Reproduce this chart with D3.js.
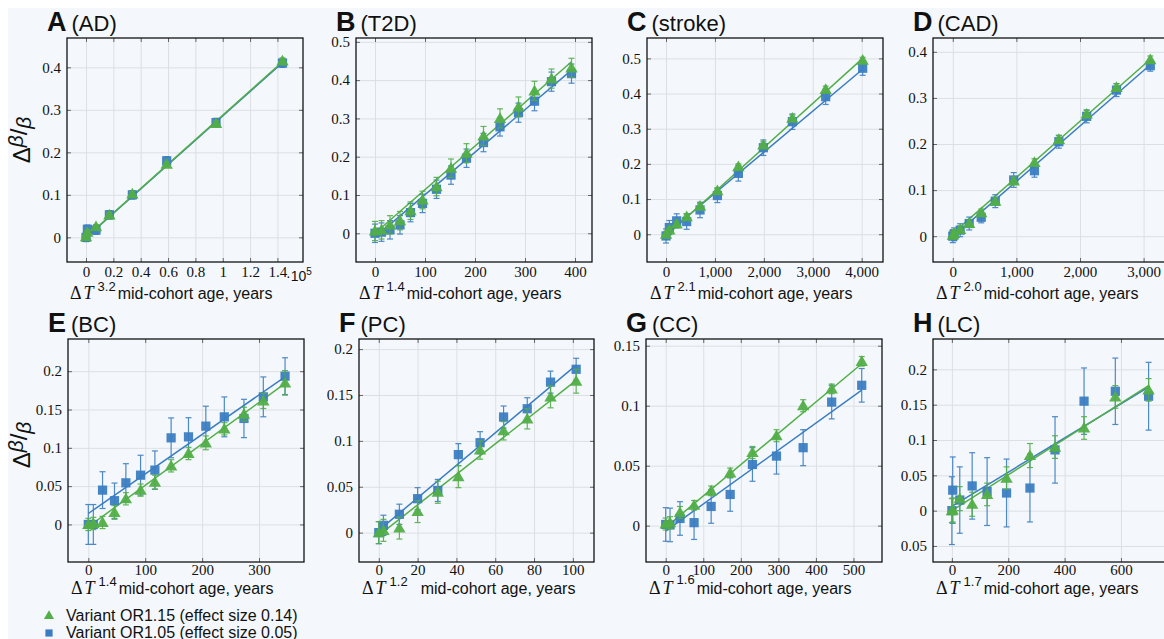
<!DOCTYPE html>
<html>
<head>
<meta charset="utf-8">
<script src="https://cdn.jsdelivr.net/npm/d3@7"></script>
<style>
  body { margin: 0; background: #fff; }
  text { font-family: "Liberation Sans", Arial, sans-serif; }
  .tick text { font-family: "Liberation Serif", "Times New Roman", serif; font-size: 15px; fill: #111; }
</style>
</head>
<body>
<svg id="chart" width="1164" height="639"></svg>
<script>
// ---- data (green = OR1.15 triangles, blue = OR1.05 squares) ----
// A (AD), x in units of 1e5
const xA  = [0, 0.01, 0.073, 0.171, 0.339, 0.59, 0.951, 1.437];
const gA  = [0.0015, 0.012, 0.025, 0.053, 0.102, 0.172, 0.268, 0.415];
const bA  = [0, 0.019, 0.017, 0.053, 0.1, 0.18, 0.27, 0.41];
const egA = [0.005, 0.005, 0.005, 0.005, 0.006, 0.006, 0.007, 0.007];
const ebA = [0.01, 0.01, 0.01, 0.01, 0.01, 0.01, 0.01, 0.01];
const fitGA = [[0, 0.0], [1.437, 0.413]];
const fitBA = [[0, -0.001], [1.437, 0.411]];

// B (T2D)
const xB  = [0, 13, 30, 50, 71, 95, 123, 152, 183, 217, 250, 287, 319, 353, 393];
const gB  = [0.006, 0.009, 0.022, 0.033, 0.059, 0.087, 0.122, 0.17, 0.209, 0.254, 0.3, 0.33, 0.372, 0.404, 0.432];
const bB  = [0, 0.003, 0.009, 0.022, 0.054, 0.078, 0.115, 0.152, 0.196, 0.237, 0.278, 0.315, 0.345, 0.396, 0.417];
const egB = [0.025, 0.024, 0.024, 0.024, 0.023, 0.023, 0.024, 0.024, 0.025, 0.025, 0.025, 0.026, 0.025, 0.025, 0.025];
const ebB = [0.024, 0.024, 0.024, 0.024, 0.024, 0.024, 0.024, 0.024, 0.024, 0.024, 0.024, 0.025, 0.025, 0.025, 0.025];
const fitGB = [[0, 0.0], [393, 0.448]];
const fitBB = [[0, -0.01], [393, 0.426]];

// C (stroke)
const xC  = [0, 68, 218, 422, 695, 1050, 1479, 1990, 2583, 3264, 4020];
const gC  = [0, 0.012, 0.029, 0.05, 0.08, 0.124, 0.192, 0.254, 0.33, 0.412, 0.495];
const bC  = [-0.005, 0.019, 0.038, 0.036, 0.069, 0.11, 0.173, 0.246, 0.32, 0.391, 0.472];
const egC = [0.008, 0.008, 0.008, 0.008, 0.008, 0.008, 0.008, 0.009, 0.009, 0.009, 0.008];
const ebC = [0.02, 0.02, 0.02, 0.022, 0.022, 0.02, 0.022, 0.022, 0.022, 0.022, 0.02];
const fitGC = [[0, -0.005], [4020, 0.5]];
const fitBC = [[0, 0.0], [4020, 0.469]];

// D (CAD)
const xD  = [0, 20, 116, 258, 447, 668, 958, 1284, 1668, 2105, 2574, 3105];
const gD  = [0.002, 0.006, 0.0145, 0.0275, 0.051, 0.076, 0.12, 0.16, 0.21, 0.265, 0.323, 0.383];
const bD  = [0, 0.004, 0.013, 0.0275, 0.041, 0.076, 0.122, 0.142, 0.205, 0.26, 0.317, 0.37];
const egD = [0.008, 0.008, 0.008, 0.008, 0.008, 0.008, 0.008, 0.008, 0.008, 0.008, 0.008, 0.008];
const ebD = [0.014, 0.014, 0.014, 0.014, 0.012, 0.014, 0.016, 0.014, 0.014, 0.014, 0.014, 0.012];
const fitGD = [[0, 0.006], [3105, 0.384]];
const fitBD = [[0, -0.0015], [3105, 0.372]];

// E (BC)
const xE  = [0, 8.8, 25, 46, 66, 91.8, 117, 145.5, 176, 206.5, 239, 273.5, 307.5, 345.7];
const gE  = [0, 0.0013, 0.0026, 0.0157, 0.0335, 0.0448, 0.0552, 0.0765, 0.0926, 0.1065, 0.1248, 0.1439, 0.1613, 0.1848];
const bE  = [0, 0, 0.0448, 0.031, 0.0543, 0.0643, 0.0709, 0.113, 0.1143, 0.1283, 0.1404, 0.1383, 0.1665, 0.1935];
const egE = [0.008, 0.008, 0.008, 0.009, 0.008, 0.008, 0.009, 0.008, 0.008, 0.009, 0.008, 0.009, 0.01, 0.016];
const ebE = [0.026, 0.026, 0.024, 0.023, 0.025, 0.026, 0.025, 0.026, 0.025, 0.026, 0.026, 0.025, 0.026, 0.024];
const fitGE = [[0, -0.003], [345.7, 0.184]];
const fitBE = [[0, 0.0143], [345.7, 0.1926]];

// F (PC)
const xF  = [0, 2.4, 10.6, 20, 30.4, 41, 52.2, 64.3, 76.5, 88.5, 101.7];
const gF  = [0, 0.0025, 0.005, 0.023, 0.044, 0.061, 0.09, 0.111, 0.124, 0.148, 0.165];
const bF  = [0, 0.008, 0.02, 0.037, 0.046, 0.085, 0.098, 0.126, 0.135, 0.164, 0.178];
const egF = [0.012, 0.012, 0.012, 0.012, 0.012, 0.012, 0.01, 0.01, 0.011, 0.012, 0.013];
const ebF = [0.012, 0.011, 0.011, 0.012, 0.012, 0.012, 0.012, 0.012, 0.012, 0.012, 0.012];
const fitGF = [[0, -0.003], [101.7, 0.166]];
const fitBF = [[0, 0.0025], [101.7, 0.1825]];

// G (CC)
const xG  = [0, 11.5, 38, 75.5, 121, 171.7, 231, 295, 366, 442, 522];
const gG  = [0.0014, 0.0025, 0.011, 0.017, 0.029, 0.044, 0.061, 0.075, 0.1, 0.114, 0.137];
const bG  = [0.001, 0.0006, 0.006, 0.0025, 0.016, 0.026, 0.051, 0.058, 0.065, 0.103, 0.117];
const egG = [0.005, 0.005, 0.005, 0.004, 0.004, 0.004, 0.005, 0.005, 0.005, 0.004, 0.004];
const ebG = [0.014, 0.014, 0.014, 0.014, 0.014, 0.014, 0.014, 0.015, 0.015, 0.014, 0.014];
const fitGG = [[0, -0.0014], [522, 0.135]];
const fitBG = [[0, -0.0045], [522, 0.113]];

// H (LC)
const xH  = [0, 3, 28, 72, 125, 194, 277, 366, 469, 580, 698];
const gH  = [0, 0.001, 0.017, 0.009, 0.023, 0.046, 0.078, 0.09, 0.117, 0.161, 0.171];
const bH  = [0, 0.029, 0.015, 0.035, 0.027, 0.025, 0.032, 0.086, 0.155, 0.169, 0.162];
const egH = [0.017, 0.017, 0.017, 0.017, 0.016, 0.016, 0.017, 0.016, 0.016, 0.016, 0.016];
const ebH = [0.048, 0.047, 0.047, 0.047, 0.048, 0.048, 0.048, 0.047, 0.047, 0.047, 0.048];
const fitGH = [[0, 0.0], [698, 0.177]];
const fitBH = [[0, 0.006], [698, 0.175]];

const legendLabels = ["Variant OR1.15 (effect size 0.14)", "Variant OR1.05 (effect size 0.05)"];

const panels = [
  { letter: "A", name: "(AD)",     exp: "3.2", x: xA, g: gA, b: bA, eg: egA, eb: ebA, fg: fitGA, fb: fitBA,
    xDom: [-0.139, 1.587], yDom: [-0.058, 0.469], xt: [0, 0.2, 0.4, 0.6, 0.8, 1, 1.2, 1.4], yt: [0, 0.1, 0.2, 0.3, 0.4], fmt: "~g" },
  { letter: "B", name: "(T2D)",    exp: "1.4", x: xB, g: gB, b: bB, eg: egB, eb: ebB, fg: fitGB, fb: fitBB,
    xDom: [-38, 434], yDom: [-0.075, 0.51], xt: [0, 100, 200, 300, 400], yt: [0, 0.1, 0.2, 0.3, 0.4, 0.5], fmt: "d" },
  { letter: "C", name: "(stroke)", exp: "2.1", x: xC, g: gC, b: bC, eg: egC, eb: ebC, fg: fitGC, fb: fitBC,
    xDom: [-389, 4436], yDom: [-0.079, 0.558], xt: [0, 1000, 2000, 3000, 4000], yt: [0, 0.1, 0.2, 0.3, 0.4, 0.5], fmt: "," },
  { letter: "D", name: "(CAD)",    exp: "2.0", x: xD, g: gD, b: bD, eg: egD, eb: ebD, fg: fitGD, fb: fitBD,
    xDom: [-311, 3415], yDom: [-0.056, 0.43], xt: [0, 1000, 2000, 3000], yt: [0, 0.1, 0.2, 0.3, 0.4], fmt: "," },
  { letter: "E", name: "(BC)",     exp: "1.4", x: xE, g: gE, b: bE, eg: egE, eb: ebE, fg: fitGE, fb: fitBE,
    xDom: [-35.7, 379], yDom: [-0.049, 0.242], xt: [0, 100, 200, 300], yt: [0, 0.05, 0.1, 0.15, 0.2], fmt: "d" },
  { letter: "F", name: "(PC)",     exp: "1.2", x: xF, g: gF, b: bF, eg: egF, eb: ebF, fg: fitGF, fb: fitBF,
    xDom: [-10.2, 110.9], yDom: [-0.032, 0.211], xt: [0, 20, 40, 60, 80, 100], yt: [0, 0.05, 0.1, 0.15, 0.2], fmt: "d" },
  { letter: "G", name: "(CC)",     exp: "1.6", x: xG, g: gG, b: bG, eg: egG, eb: ebG, fg: fitGG, fb: fitBG,
    xDom: [-52.5, 576], yDom: [-0.0303, 0.1556], xt: [0, 100, 200, 300, 400, 500], yt: [0, 0.05, 0.1, 0.15], fmt: "d" },
  { letter: "H", name: "(LC)",     exp: "1.7", x: xH, g: gH, b: bH, eg: egH, eb: ebH, fg: fitGH, fb: fitBH,
    xDom: [-67, 774], yDom: [-0.0727, 0.243], xt: [0, 200, 400, 600], yt: [-0.05, 0, 0.05, 0.1, 0.15, 0.2], fmt: "d" }
];

// plot boxes [left, top, right, bottom]
const boxes = [
  [67, 38, 303, 262], [356, 38, 592, 262], [647, 38, 883, 262], [933, 38, 1170, 262],
  [68, 339, 304, 562], [359, 339, 594, 562], [646, 339, 882, 562], [933, 339, 1170, 562]
];

const GREEN = "#52ae47", BLUE = "#3b7dc2";
const svg = d3.select("#chart");

svg.append("rect").attr("x", 8).attr("y", 8).attr("width", 1164).attr("height", 639).attr("fill", "#f4f8fc");

const yFmt = d => d === 0 ? "0" : String(+Math.abs(d).toFixed(3));

panels.forEach((p, i) => {
  const [L, T, R, B] = boxes[i];
  const w = R - L, h = B - T;
  const x = d3.scaleLinear().domain(p.xDom).range([0, w]);
  const y = d3.scaleLinear().domain(p.yDom).range([h, 0]);
  const g = svg.append("g").attr("transform", `translate(${L},${T})`);

  // grid
  g.append("g").attr("transform", `translate(0,${h})`)
    .call(d3.axisBottom(x).tickValues(p.xt).tickSize(-h).tickFormat(""))
    .call(a => a.select(".domain").remove())
    .selectAll("line").attr("stroke", "#dcdfe3");
  g.append("g")
    .call(d3.axisLeft(y).tickValues(p.yt).tickSize(-w).tickFormat(""))
    .call(a => a.select(".domain").remove())
    .selectAll("line").attr("stroke", "#dcdfe3");

  // tick marks inside on all sides + labels
  const xf = p.fmt === "~g" ? d3.format("~g") : d3.format(p.fmt);
  g.append("g").attr("transform", `translate(0,${h})`)
    .call(d3.axisBottom(x).tickValues(p.xt).tickSize(-4).tickPadding(i < 4 ? 4 : 2).tickFormat(xf))
    .call(a => a.select(".domain").remove())
    .call(a => a.selectAll("line").attr("stroke", "#666"));
  g.append("g").call(d3.axisTop(x).tickValues(p.xt).tickSize(-4).tickFormat(""))
    .call(a => a.select(".domain").remove())
    .call(a => a.selectAll("line").attr("stroke", "#666"));
  g.append("g")
    .call(d3.axisLeft(y).tickValues(p.yt).tickSize(-4).tickPadding(6).tickFormat(yFmt))
    .call(a => a.select(".domain").remove())
    .call(a => a.selectAll("line").attr("stroke", "#666"));
  g.append("g").attr("transform", `translate(${w},0)`)
    .call(d3.axisRight(y).tickValues(p.yt).tickSize(-4).tickFormat(""))
    .call(a => a.select(".domain").remove())
    .call(a => a.selectAll("line").attr("stroke", "#666"));

  g.append("rect").attr("width", w).attr("height", h)
    .attr("fill", "none").attr("stroke", "#111").attr("stroke-width", 1.3);

  // fit lines
  const line = d3.line().x(d => x(d[0])).y(d => y(d[1]));
  g.append("path").datum(p.fb).attr("d", line).attr("stroke", BLUE).attr("stroke-width", 1.5).attr("fill", "none");
  g.append("path").datum(p.fg).attr("d", line).attr("stroke", GREEN).attr("stroke-width", 1.5).attr("fill", "none");

  // series: blue squares first, green triangles on top
  const series = [
    { ys: p.b, es: p.eb, color: BLUE, sym: d3.symbolSquare, size: 85 },
    { ys: p.g, es: p.eg, color: GREEN, sym: d3.symbolTriangle, size: 66 }
  ];
  series.forEach(s => {
    const pts = p.x.map((xv, k) => ({ x: xv, y: s.ys[k], e: s.es[k] }));
    const eg = g.append("g").attr("stroke", s.color).attr("stroke-width", 1.2).attr("opacity", 0.9);
    eg.selectAll("line.v").data(pts).join("line")
      .attr("x1", d => x(d.x)).attr("x2", d => x(d.x))
      .attr("y1", d => y(d.y - d.e)).attr("y2", d => y(d.y + d.e));
    eg.selectAll("line.t").data(pts).join("line")
      .attr("x1", d => x(d.x) - 3).attr("x2", d => x(d.x) + 3)
      .attr("y1", d => y(d.y + d.e)).attr("y2", d => y(d.y + d.e));
    eg.selectAll("line.b").data(pts).join("line")
      .attr("x1", d => x(d.x) - 3).attr("x2", d => x(d.x) + 3)
      .attr("y1", d => y(d.y - d.e)).attr("y2", d => y(d.y - d.e));
    g.append("g").selectAll("path").data(pts).join("path")
      .attr("d", d3.symbol().type(s.sym).size(s.size))
      .attr("transform", d => `translate(${x(d.x)},${y(d.y) + (s.sym === d3.symbolTriangle ? 1 : 0)})`)
      .attr("fill", s.color).attr("fill-opacity", 0.95);
  });

  // panel title: bold letter, then the name as its own text
  const letter = svg.append("text").attr("x", L - 20).attr("y", T - 7)
    .attr("font-weight", "bold").attr("font-size", 27).attr("fill", "#111").text(p.letter);
  const lw = letter.node().getComputedTextLength();
  svg.append("text").attr("x", L - 20 + lw + 5).attr("y", T - 7)
    .attr("font-size", 22).attr("fill", "#111").text(p.name);

  // x axis label
  const lab = svg.append("text").attr("x", L + 3).attr("y", B + (i < 4 ? 37 : 32)).attr("fill", "#111");
  lab.append("tspan").text("Δ").attr("font-family", "Liberation Serif, serif").attr("font-size", 18);
  lab.append("tspan").text("T").attr("font-family", "Liberation Serif, serif").attr("font-style", "italic").attr("font-size", 18).attr("dx", 2);
  lab.append("tspan").text(p.exp).attr("font-size", 13).attr("dy", p.letter === "G" ? -10 : -8).attr("dx", 4);
  lab.append("tspan").text("mid-cohort age, years").attr("font-size", 16).attr("dy", p.letter === "G" ? 10 : 8).attr("dx", p.letter === "F" ? 13 : 2);
});

// ·10^5 multiplier on panel A
const mult = svg.append("text").attr("x", 286).attr("y", 281)
  .attr("font-family", "Liberation Serif, serif").attr("font-size", 14).attr("fill", "#111");
mult.append("tspan").text("·10");
mult.append("tspan").text("5").attr("font-size", 10).attr("dy", -6);

// y axis labels (A and E)
[[30, 140], [30, 445]].forEach(([cx, cy]) => {
  const yl = svg.append("text").attr("transform", `translate(${cx},${cy}) rotate(-90)`)
    .attr("text-anchor", "middle").attr("font-family", "Liberation Serif, serif").attr("fill", "#111");
  yl.append("tspan").text("Δ").attr("font-size", 24);
  yl.append("tspan").text("β").attr("font-style", "italic").attr("font-size", 21).attr("dy", -7);
  yl.append("tspan").text("/").attr("font-size", 24).attr("dy", 4);
  yl.append("tspan").text("β").attr("font-style", "italic").attr("font-size", 21).attr("dy", 4);
});

// legend
const lg = svg.append("g");
const legSym = [d3.symbolTriangle, d3.symbolSquare];
legendLabels.forEach((txt, k) => {
  const cy = 615 + k * 17;
  lg.append("path").attr("d", d3.symbol().type(legSym[k]).size(k ? 52 : 44))
    .attr("transform", `translate(49,${cy + 1})`).attr("fill", k ? BLUE : GREEN);
  lg.append("text").attr("x", 66).attr("y", cy + 6).attr("font-size", 16).attr("fill", "#111").text(txt);
});
</script>
</body>
</html>
